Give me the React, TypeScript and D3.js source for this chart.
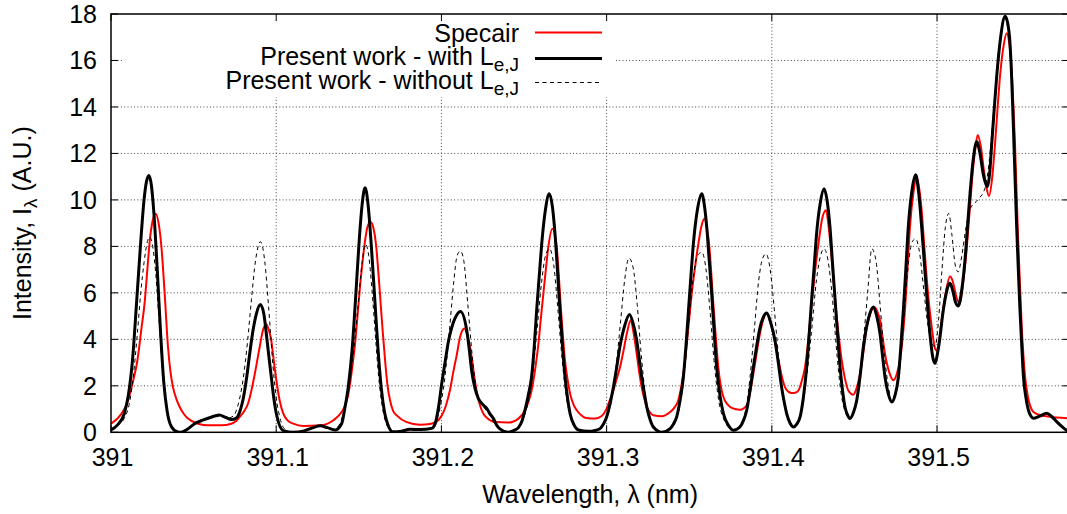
import React from "react";
import * as d3 from "d3";

// Spectra of the N2+ first negative (0,0) band region, intensity vs wavelength (nm)
type Pt = [number, number];

const specair: Pt[] = [
  [391.0, 0.37], [391.0063, 0.8], [391.01, 1.3], [391.013, 2.1], [391.016, 3.1], [391.0185, 4.5],
  [391.0204, 5.6], [391.022, 7.0], [391.0234, 8.2], [391.0252, 9.1], [391.027, 9.4], [391.0288, 9.0],
  [391.0305, 8.0], [391.0325, 5.96], [391.0345, 3.67], [391.036, 2.6], [391.0375, 1.95], [391.0395, 1.45],
  [391.0416, 1.09], [391.044, 0.8], [391.0466, 0.59], [391.0527, 0.37], [391.0587, 0.3], [391.0668, 0.3],
  [391.0728, 0.37], [391.076, 0.5], [391.0779, 0.66], [391.0805, 0.9], [391.0829, 1.23], [391.085, 1.8],
  [391.087, 2.5], [391.09, 3.67], [391.092, 4.4], [391.094, 4.65], [391.0955, 4.4], [391.097, 3.96],
  [391.0985, 3.1], [391.1001, 2.24], [391.102, 1.4], [391.1043, 0.8], [391.107, 0.5], [391.1103, 0.37],
  [391.1164, 0.27], [391.1265, 0.3], [391.1346, 0.52], [391.1396, 0.87], [391.142, 1.2], [391.1437, 1.66],
  [391.1457, 2.6], [391.1477, 3.8], [391.1492, 5.0], [391.1507, 6.25], [391.1522, 7.3], [391.1538, 8.26],
  [391.1555, 8.9], [391.1572, 9.05], [391.1588, 8.8], [391.1604, 8.1], [391.1616, 7.1], [391.1628, 5.96],
  [391.1644, 4.4], [391.1659, 3.1], [391.1674, 2.0], [391.1689, 1.38], [391.1709, 0.9], [391.1729, 0.73],
  [391.179, 0.44], [391.187, 0.33], [391.1931, 0.36], [391.1971, 0.46], [391.2002, 0.72], [391.2025, 1.1],
  [391.2052, 1.82], [391.2072, 2.6], [391.2092, 3.3], [391.2113, 4.1], [391.2139, 4.47], [391.2156, 4.2],
  [391.2173, 3.67], [391.2188, 3.0], [391.2203, 2.2], [391.2218, 1.6], [391.2234, 1.15], [391.2254, 0.8],
  [391.2274, 0.63], [391.2324, 0.44], [391.2405, 0.42], [391.2466, 0.59], [391.2506, 0.95], [391.2526, 1.3],
  [391.2546, 1.8], [391.2567, 2.7], [391.2587, 3.8], [391.2602, 4.9], [391.2617, 5.96], [391.2632, 7.0],
  [391.2647, 7.97], [391.2672, 8.76], [391.2698, 7.97], [391.2711, 6.7], [391.2724, 5.25], [391.2736, 4.1],
  [391.2748, 3.1], [391.2763, 2.3], [391.2779, 1.66], [391.2799, 1.2], [391.2819, 0.95], [391.2844, 0.75],
  [391.2869, 0.63], [391.293, 0.59], [391.297, 0.7], [391.3, 1.02], [391.302, 1.4], [391.3041, 1.8],
  [391.3061, 2.3], [391.3081, 2.8], [391.3102, 3.5], [391.3122, 4.24], [391.3146, 4.82], [391.3165, 4.2],
  [391.3182, 3.38], [391.3197, 2.6], [391.3212, 1.95], [391.3228, 1.45], [391.3243, 1.09], [391.3263, 0.85],
  [391.3283, 0.73], [391.3334, 0.69], [391.3384, 0.87], [391.3409, 1.05], [391.3434, 1.38], [391.3455, 2.1],
  [391.3475, 3.1], [391.3495, 4.5], [391.3515, 5.96], [391.3535, 7.1], [391.3555, 8.1], [391.3575, 8.9],
  [391.3592, 9.19], [391.3607, 8.8], [391.3622, 7.97], [391.3634, 6.8], [391.3646, 5.53], [391.3661, 4.1],
  [391.3676, 2.8], [391.3691, 2.0], [391.3707, 1.52], [391.3732, 1.2], [391.3757, 1.05], [391.3807, 0.97],
  [391.3848, 1.16], [391.3868, 1.7], [391.3888, 2.5], [391.3908, 3.4], [391.3928, 4.24], [391.3948, 4.85],
  [391.3969, 5.1], [391.3989, 4.8], [391.4009, 4.24], [391.4029, 3.5], [391.4049, 2.8], [391.4064, 2.3],
  [391.4079, 1.95], [391.41, 1.75], [391.412, 1.69], [391.4141, 1.7], [391.4161, 1.8], [391.4181, 2.2],
  [391.4201, 2.8], [391.4221, 4.0], [391.4241, 5.53], [391.4261, 6.9], [391.4282, 8.1], [391.4305, 9.2],
  [391.4328, 9.55], [391.4343, 8.9], [391.4358, 7.83], [391.4374, 6.5], [391.4389, 5.25], [391.4406, 4.1],
  [391.4423, 3.1], [391.4443, 2.3], [391.4463, 1.8], [391.4493, 1.62], [391.4513, 1.9], [391.4534, 2.52],
  [391.4555, 3.5], [391.4575, 4.53], [391.4598, 5.15], [391.4621, 5.39], [391.4638, 5.2], [391.4655, 4.82],
  [391.467, 4.1], [391.4685, 3.38], [391.471, 2.6], [391.4736, 2.24], [391.4756, 2.5], [391.4776, 3.1],
  [391.4791, 4.0], [391.4806, 5.25], [391.4821, 7.0], [391.4836, 8.8], [391.4857, 10.3], [391.4877, 10.98],
  [391.4892, 10.5], [391.4907, 9.55], [391.4922, 8.1], [391.4937, 6.68], [391.4952, 5.5], [391.4968, 4.53],
  [391.4988, 3.6], [391.5, 3.5], [391.5014, 4.0], [391.5028, 4.83], [391.505, 5.9], [391.5079, 6.7],
  [391.5095, 6.5], [391.5118, 5.8], [391.5139, 5.55], [391.5159, 6.5], [391.5179, 7.85], [391.5195, 9.3],
  [391.521, 10.7], [391.5228, 12.0], [391.5246, 12.79], [391.5265, 12.3], [391.5285, 11.2], [391.53, 10.5],
  [391.5315, 10.17], [391.5333, 10.9], [391.5351, 12.4], [391.5366, 13.9], [391.5381, 15.3], [391.5402, 16.6],
  [391.5422, 17.17], [391.5436, 16.8], [391.5448, 16.0], [391.546, 14.4], [391.5472, 12.4], [391.5482, 10.2],
  [391.5492, 8.1], [391.5503, 6.2], [391.5513, 4.5], [391.5523, 3.3], [391.5533, 2.4], [391.5545, 1.75],
  [391.5557, 1.3], [391.5575, 0.95], [391.56, 0.8], [391.565, 0.7], [391.5724, 0.64], [391.58, 0.6],
];

const withLeJ: Pt[] = [
  [391.0, 0.1], [391.004, 0.32], [391.008, 0.8], [391.0105, 1.6], [391.013, 3.1], [391.0155, 5.6],
  [391.018, 8.2], [391.02, 10.0], [391.0215, 10.8], [391.023, 11.05], [391.0245, 10.6], [391.026, 9.4],
  [391.028, 7.0], [391.03, 4.3], [391.032, 2.1], [391.034, 0.9], [391.0365, 0.25], [391.04, 0.03],
  [391.0425, 0.0], [391.046, 0.12], [391.0506, 0.37], [391.0555, 0.52], [391.0605, 0.65], [391.0655, 0.74],
  [391.0695, 0.64], [391.0728, 0.55], [391.0759, 0.62], [391.078, 0.9], [391.0799, 1.4], [391.082, 2.3],
  [391.084, 3.4], [391.086, 4.4], [391.088, 5.1], [391.0904, 5.5], [391.0925, 5.1], [391.094, 4.25],
  [391.0955, 3.3], [391.097, 2.4], [391.0985, 1.5], [391.1001, 0.8], [391.1043, 0.07], [391.1103, 0.0],
  [391.1164, 0.05], [391.1215, 0.18], [391.1265, 0.28], [391.131, 0.2], [391.1356, 0.1], [391.1396, 0.37],
  [391.1417, 1.1], [391.1437, 2.0], [391.146, 3.6], [391.148, 5.7], [391.15, 8.0], [391.152, 9.8],
  [391.1538, 10.52], [391.1556, 9.8], [391.1576, 8.0], [391.1596, 5.8], [391.1616, 3.6], [391.1636, 1.9],
  [391.1656, 0.85], [391.168, 0.25], [391.1707, 0.02], [391.176, 0.05], [391.181, 0.13], [391.1875, 0.12],
  [391.1941, 0.17], [391.1961, 0.35], [391.1985, 1.2], [391.2002, 2.1], [391.2022, 3.0], [391.2042, 3.9],
  [391.2062, 4.5], [391.2082, 4.9], [391.2115, 5.2], [391.2153, 4.4], [391.2168, 3.6], [391.2184, 2.6],
  [391.2203, 1.9], [391.2224, 1.45], [391.225, 1.2], [391.2274, 1.03], [391.2294, 0.8], [391.2314, 0.6],
  [391.2335, 0.3], [391.2354, 0.15], [391.2405, 0.0], [391.244, 0.08], [391.2466, 0.2], [391.2486, 0.45],
  [391.2506, 0.95], [391.2526, 1.6], [391.2546, 2.4], [391.2561, 3.6], [391.2576, 5.2], [391.2592, 6.7],
  [391.2607, 8.1], [391.263, 9.6], [391.2653, 10.27], [391.2672, 9.7], [391.2688, 8.5], [391.2703, 6.9],
  [391.2718, 5.2], [391.2733, 3.7], [391.2748, 2.4], [391.2763, 1.5], [391.2779, 0.8], [391.2804, 0.3],
  [391.2829, 0.1], [391.289, 0.04], [391.293, 0.08], [391.296, 0.16], [391.298, 0.35], [391.3, 0.66],
  [391.302, 1.2], [391.3041, 1.95], [391.3061, 2.8], [391.3081, 3.7], [391.311, 4.6], [391.3138, 5.07],
  [391.316, 4.7], [391.3182, 3.96], [391.3197, 3.2], [391.3212, 2.4], [391.3228, 1.7], [391.3243, 1.09],
  [391.3263, 0.55], [391.3283, 0.23], [391.3334, 0.0], [391.3384, 0.16], [391.3404, 0.35], [391.3424, 0.66],
  [391.3445, 1.4], [391.3465, 2.4], [391.348, 3.7], [391.3495, 5.2], [391.351, 6.7], [391.3525, 8.1],
  [391.355, 9.6], [391.3576, 10.27], [391.3591, 9.8], [391.3606, 8.83], [391.3621, 7.4], [391.3636, 5.96],
  [391.3651, 4.3], [391.3666, 2.8], [391.3686, 1.6], [391.3707, 0.8], [391.3737, 0.3], [391.3767, 0.09],
  [391.3807, 0.23], [391.3828, 0.5], [391.3848, 0.95], [391.3868, 1.8], [391.3888, 2.8], [391.3908, 3.7],
  [391.3928, 4.5], [391.3948, 4.95], [391.3969, 5.13], [391.3994, 4.7], [391.4019, 3.96], [391.4039, 3.0],
  [391.4059, 1.95], [391.4075, 1.3], [391.409, 0.8], [391.411, 0.4], [391.4131, 0.23], [391.4151, 0.35],
  [391.4171, 0.66], [391.4191, 1.5], [391.4211, 2.8], [391.4226, 4.2], [391.4241, 5.7], [391.4256, 7.1],
  [391.4271, 8.55], [391.4294, 9.9], [391.4316, 10.48], [391.4334, 10.0], [391.4352, 8.83], [391.4367, 7.3],
  [391.4383, 5.7], [391.4398, 4.2], [391.4413, 2.8], [391.4428, 1.8], [391.4443, 1.09], [391.4458, 0.75],
  [391.4473, 0.59], [391.4494, 0.85], [391.4514, 1.38], [391.4534, 2.4], [391.4554, 3.67], [391.4585, 4.9],
  [391.4615, 5.39], [391.4635, 5.0], [391.4655, 4.24], [391.467, 3.3], [391.4685, 2.38], [391.4705, 1.65],
  [391.4726, 1.3], [391.4746, 1.6], [391.4766, 2.38], [391.4781, 3.7], [391.4796, 5.25], [391.4811, 7.0],
  [391.4826, 8.83], [391.4848, 10.4], [391.4871, 11.08], [391.4889, 10.3], [391.4907, 8.83], [391.4922, 7.4],
  [391.4937, 5.96], [391.4957, 4.24], [391.4975, 3.2], [391.4988, 2.97], [391.5003, 3.4], [391.5018, 4.1],
  [391.5033, 5.0], [391.5048, 5.7], [391.5063, 6.2], [391.5079, 6.41], [391.5095, 6.1], [391.5112, 5.6],
  [391.5129, 5.44], [391.5149, 6.1], [391.5169, 7.4], [391.5185, 8.9], [391.52, 10.3], [391.522, 11.8],
  [391.524, 12.5], [391.526, 12.0], [391.528, 11.1], [391.5305, 10.57], [391.5318, 11.1], [391.5331, 12.4],
  [391.5346, 13.9], [391.5361, 15.3], [391.5385, 17.0], [391.5412, 17.9], [391.5428, 17.6], [391.5442, 16.7],
  [391.5452, 15.2], [391.5462, 13.2], [391.5472, 11.0], [391.5482, 8.85], [391.5492, 7.0], [391.5502, 5.27],
  [391.5513, 3.7], [391.5523, 2.4], [391.5538, 1.5], [391.5553, 0.96], [391.5568, 0.7], [391.5583, 0.6],
  [391.5623, 0.7], [391.5664, 0.82], [391.5694, 0.68], [391.5724, 0.46], [391.5755, 0.25], [391.5787, 0.07],
  [391.58, 0.02],
];

const withoutLeJ: Pt[] = [
  [391.0, 0.1], [391.004, 0.3], [391.008, 0.6], [391.011, 1.2], [391.0135, 2.4], [391.016, 4.3],
  [391.018, 6.0], [391.02, 7.3], [391.022, 8.2], [391.0235, 8.4], [391.025, 8.1], [391.027, 6.9],
  [391.029, 4.9], [391.031, 2.9], [391.033, 1.4], [391.035, 0.6], [391.0375, 0.15], [391.041, 0.0],
  [391.046, 0.15], [391.052, 0.45], [391.058, 0.6], [391.0655, 0.68], [391.07, 0.6], [391.074, 0.7],
  [391.077, 1.2], [391.08, 2.3], [391.0825, 3.8], [391.085, 5.7], [391.0875, 7.4], [391.0905, 8.2],
  [391.093, 7.4], [391.0955, 5.3], [391.098, 2.9], [391.1, 1.5], [391.102, 0.7], [391.105, 0.15],
  [391.11, 0.0], [391.116, 0.03], [391.121, 0.15], [391.1265, 0.25], [391.131, 0.2], [391.135, 0.12],
  [391.138, 0.3], [391.141, 0.9], [391.144, 1.9], [391.147, 3.6], [391.1495, 5.4], [391.152, 7.3],
  [391.154, 8.1], [391.156, 7.6], [391.158, 6.1], [391.16, 4.2], [391.162, 2.4], [391.164, 1.2],
  [391.166, 0.5], [391.169, 0.12], [391.172, 0.0], [391.181, 0.1], [391.19, 0.13], [391.1955, 0.3],
  [391.199, 1.0], [391.202, 2.3], [391.205, 4.5], [391.2075, 6.5], [391.2095, 7.6], [391.2115, 7.8],
  [391.2135, 7.4], [391.216, 5.5], [391.2185, 3.4], [391.221, 1.9], [391.2235, 1.3], [391.2265, 1.0],
  [391.2295, 0.7], [391.2335, 0.25], [391.2405, 0.02], [391.2466, 0.2], [391.2506, 0.8], [391.2546, 2.1],
  [391.2576, 4.2], [391.2607, 6.5], [391.263, 7.6], [391.2655, 7.9], [391.268, 7.2], [391.2705, 5.3],
  [391.273, 3.2], [391.2755, 1.6], [391.2785, 0.6], [391.2829, 0.08], [391.289, 0.03], [391.295, 0.12],
  [391.3, 0.6], [391.3035, 1.6], [391.306, 3.0], [391.3085, 4.8], [391.311, 6.6], [391.3135, 7.5],
  [391.316, 7.1], [391.3185, 5.5], [391.321, 3.3], [391.3235, 1.6], [391.326, 0.7], [391.3283, 0.2],
  [391.3334, 0.0], [391.3384, 0.15], [391.3424, 0.6], [391.3465, 2.2], [391.3495, 4.5], [391.3525, 6.7],
  [391.355, 7.6], [391.3576, 7.75], [391.36, 7.1], [391.3625, 5.3], [391.365, 3.1], [391.368, 1.3],
  [391.3707, 0.6], [391.3767, 0.09], [391.3807, 0.3], [391.3848, 1.2], [391.387, 2.5], [391.3895, 4.5],
  [391.392, 6.5], [391.3945, 7.5], [391.3965, 7.68], [391.399, 7.0], [391.4015, 5.3], [391.404, 3.3],
  [391.4065, 1.7], [391.409, 0.7], [391.4131, 0.23], [391.4171, 0.6], [391.4211, 2.4], [391.4241, 4.4],
  [391.4271, 6.6], [391.4295, 7.6], [391.4316, 7.9], [391.434, 7.4], [391.4365, 5.9], [391.439, 3.7],
  [391.4415, 1.9], [391.4443, 0.9], [391.4473, 0.6], [391.4505, 1.1], [391.453, 2.2], [391.4554, 3.9],
  [391.458, 6.0], [391.4605, 7.9], [391.463, 7.4], [391.4655, 5.5], [391.468, 3.4], [391.4705, 2.0],
  [391.4726, 1.35], [391.4766, 2.2], [391.4796, 4.6], [391.4826, 7.2], [391.485, 8.2], [391.487, 8.33],
  [391.4895, 7.7], [391.492, 6.1], [391.4945, 4.6], [391.497, 3.8], [391.4988, 3.7], [391.501, 4.9],
  [391.503, 7.0], [391.505, 8.8], [391.5071, 9.42], [391.509, 8.5], [391.511, 7.2], [391.5128, 6.9],
  [391.515, 7.6], [391.5175, 8.8], [391.52, 9.6], [391.5246, 10.0], [391.529, 10.5], [391.5315, 11.6],
  [391.5335, 13.2], [391.536, 15.4], [391.5385, 17.2], [391.541, 17.8], [391.5442, 16.6], [391.5462, 13.1],
  [391.5482, 8.8], [391.5502, 5.25], [391.5523, 2.4], [391.5553, 0.95], [391.5583, 0.6], [391.5625, 0.7],
  [391.5664, 0.8], [391.5724, 0.45], [391.5787, 0.07], [391.58, 0.02],
];

const xTicks = [391, 391.1, 391.2, 391.3, 391.4, 391.5];
const xTickLabels = ["391", "391.1", "391.2", "391.3", "391.4", "391.5"];
const yTicks = [0, 2, 4, 6, 8, 10, 12, 14, 16, 18];

const legendLabels = ["Specair", "Present work - with L", "Present work - without L"];
const legendSubs = ["", "e,J", "e,J"];

const W = 1067;
const H = 514;
const FONT = "'Liberation Sans', Arial, Helvetica, sans-serif";

export default function App() {
  const left = 111;
  const right = 1069.2;
  const top = 14;
  const bottom = 432.3;

  const x = d3.scaleLinear().domain([391, 391.58]).range([left, right]);
  const y = d3.scaleLinear().domain([0, 18]).range([bottom, top]);

  const line = d3
    .line<Pt>()
    .x((d) => x(d[0]))
    .y((d) => y(d[1]))
    .curve(d3.curveMonotoneX);

  const series = [
    { data: specair, color: "#ff0000", width: 2, dash: undefined as string | undefined },
    { data: withLeJ, color: "#000000", width: 3, dash: undefined as string | undefined },
    { data: withoutLeJ, color: "#000000", width: 1, dash: "4,3.5" },
  ];

  const legendSampleY = [32.5, 58.5, 82.5];
  const legendTextY = [41.7, 65, 89];
  const fs = 25;
  const subFs = 19;
  const tick = 7;

  return (
    <svg
      width={W}
      height={H}
      style={{ position: "absolute", left: 0, top: 0, background: "#fff" }}
      fontFamily={FONT}
    >
      <defs>
        <clipPath id="plotArea">
          <rect x={left} y={top} width={right - left} height={bottom - top} />
        </clipPath>
      </defs>
      <rect x={0} y={0} width={W} height={H} fill="#fff" />

      {/* grid */}
      <g stroke="#444" strokeWidth={1} strokeDasharray="1,2.3">
        {yTicks
          .filter((t) => t > 0 && t < 18)
          .map((t) => (
            <line key={"gy" + t} x1={left} x2={right} y1={y(t)} y2={y(t)} />
          ))}
        {xTicks
          .filter((t) => t > 391)
          .map((t) => (
            <line key={"gx" + t} x1={x(t)} x2={x(t)} y1={top} y2={bottom} />
          ))}
      </g>

      {/* legend background */}
      <rect x={123} y={top + 1} width={616 - 123} height={97 - top - 1} fill="#fff" />

      {/* curves */}
      <g clipPath="url(#plotArea)" fill="none" strokeLinejoin="round">
        {series.map((s, i) => (
          <path
            key={i}
            d={line(s.data) || ""}
            stroke={s.color}
            strokeWidth={s.width}
            strokeDasharray={s.dash}
          />
        ))}
      </g>

      {/* ticks */}
      <g stroke="#000" strokeWidth={1}>
        {yTicks.map((t) => (
          <g key={"ty" + t}>
            <line x1={left} x2={left + tick} y1={y(t)} y2={y(t)} />
            <line x1={right - tick} x2={right} y1={y(t)} y2={y(t)} />
          </g>
        ))}
        {xTicks.map((t) => (
          <g key={"tx" + t}>
            <line x1={x(t)} x2={x(t)} y1={bottom} y2={bottom - tick} />
            <line x1={x(t)} x2={x(t)} y1={top} y2={top + tick} />
          </g>
        ))}
      </g>

      {/* frame */}
      <rect
        x={left}
        y={top}
        width={right - left}
        height={bottom - top}
        fill="none"
        stroke="#000"
        strokeWidth={1.5}
      />

      {/* tick labels */}
      <g fontSize={fs} fill="#000">
        {yTicks.map((t) => (
          <text key={"ly" + t} x={97} y={y(t) + 8.8} textAnchor="end">
            {t}
          </text>
        ))}
        {xTicks.map((t, i) => (
          <text key={"lx" + t} x={x(t) + 1.5} y={466} textAnchor="middle">
            {xTickLabels[i]}
          </text>
        ))}
      </g>

      {/* axis titles */}
      <text x={(left + right) / 2} y={503} textAnchor="middle" fontSize={fs}>
        Wavelength, λ (nm)
      </text>
      <text
        transform={`translate(31,${(top + bottom) / 2}) rotate(-90)`}
        textAnchor="middle"
        fontSize={fs}
      >
        Intensity, I
        <tspan fontSize={subFs} dy={6}>λ</tspan>
        <tspan dy={-6}> (A.U.)</tspan>
      </text>

      {/* legend */}
      <g fontSize={fs}>
        {legendLabels.map((lab, i) => (
          <g key={"lg" + i}>
            <text x={519} y={legendTextY[i]} textAnchor="end">
              {lab}
              {legendSubs[i] ? (
                <tspan fontSize={subFs} dy={5.5}>
                  {legendSubs[i]}
                </tspan>
              ) : null}
            </text>
            <line
              x1={535}
              x2={602}
              y1={legendSampleY[i]}
              y2={legendSampleY[i]}
              stroke={series[i].color}
              strokeWidth={series[i].width}
              strokeDasharray={series[i].dash}
            />
          </g>
        ))}
      </g>
    </svg>
  );
}
